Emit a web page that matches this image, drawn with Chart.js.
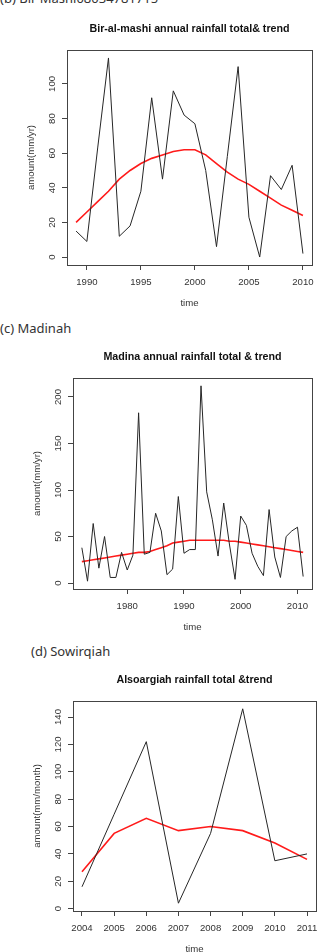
<!DOCTYPE html>
<html>
<head>
<meta charset="utf-8">
<script src="https://cdn.jsdelivr.net/npm/chart.js@4"></script>
<style>
  html, body { margin: 0; padding: 0; background: #fff; }
  #page { position: relative; width: 318px; height: 952px; overflow: hidden; }
  canvas { position: absolute; left: 0; }
  .cap { position: absolute; font-family: "Noto Sans", sans-serif; font-size: 13px; color: #333; white-space: nowrap; }
</style>
</head>
<body>
<div id="page">
  <div class="cap" style="left:0;top:-11px;">(b) Bir Mashi08034781715</div>
  <canvas id="c1" width="318" height="300" style="top:15px"></canvas>
  <div class="cap" style="left:0;top:319px;">(c) Madinah</div>
  <canvas id="c2" width="318" height="300" style="top:340px"></canvas>
  <div class="cap" style="left:31px;top:642px;">(d) Sowirqiah</div>
  <canvas id="c3" width="318" height="292" style="top:660px"></canvas>
</div>
<script>
// Bir-al-mashi
const birYears = [1989, 1990, 1991, 1992, 1993, 1994, 1995, 1996, 1997, 1998, 1999,
  2000, 2001, 2002, 2003, 2004, 2005, 2006, 2007, 2008, 2009, 2010];
const birTotal = [15, 9, 63, 115, 12, 18, 38, 92, 45, 96, 82,
  77, 50, 6, 58, 110, 23, 0, 47, 39, 53, 2];
const birTrend = [20, 26, 32, 38, 45, 50, 54, 57, 59, 61, 62,
  62, 59, 54, 49, 45, 42, 38, 34, 30, 27, 24];
const birXTicks = [1990, 1995, 2000, 2005, 2010];
const birYTicks = [0, 20, 40, 60, 80, 100];

// Madina
const madYears = [1972, 1973, 1974, 1975, 1976, 1977, 1978, 1979, 1980, 1981,
  1982, 1983, 1984, 1985, 1986, 1987, 1988, 1989, 1990, 1991,
  1992, 1993, 1994, 1995, 1996, 1997, 1998, 1999, 2000, 2001,
  2002, 2003, 2004, 2005, 2006, 2007, 2008, 2009, 2010, 2011];
const madTotal = [38, 2, 64, 16, 50, 6, 6, 33, 14, 30,
  183, 31, 33, 75, 56, 9, 15, 93, 32, 36,
  36, 212, 98, 68, 29, 86, 42, 4, 72, 62,
  32, 18, 8, 79, 28, 6, 50, 56, 60, 7];
const madTrend = [23, 24, 25, 26, 27, 28, 29, 30, 31, 32,
  33, 33, 34, 36, 38, 40, 43, 44, 45, 46,
  46, 46, 46, 46, 46, 46, 45, 45, 44, 43,
  42, 41, 40, 39, 38, 37, 36, 35, 34, 33];
const madXTicks = [1980, 1990, 2000, 2010];
const madYTicks = [0, 50, 100, 150, 200];

// Alsoargiah
const soYears = [2004, 2005, 2006, 2007, 2008, 2009, 2010, 2011];
const soTotal = [16, 69, 122, 4, 55, 146, 35, 40];
const soTrend = [27, 55, 66, 57, 60, 57, 48, 36];
const soXTicks = [2004, 2005, 2006, 2007, 2008, 2009, 2010, 2011];
const soYTicks = [0, 20, 40, 60, 80, 100, 120, 140];

const AXIS = '#444';
const TEXT = '#333';
const SANS = '"Liberation Sans", Arial, sans-serif';

function pts(xs, ys) {
  return xs.map((x, i) => ({ x, y: ys[i] }));
}

// R-like box, titles and tick labels
const rFrame = {
  id: 'rFrame',
  afterDraw(chart, args, o) {
    const { ctx, chartArea: a } = chart;
    const xs = chart.scales.x, ys = chart.scales.y;
    ctx.save();
    ctx.strokeStyle = AXIS;
    ctx.lineWidth = 1;
    ctx.strokeRect(Math.round(a.left) + 0.5, Math.round(a.top) + 0.5,
      Math.round(a.right - a.left), Math.round(a.bottom - a.top));

    ctx.fillStyle = '#111';
    ctx.font = 'bold 10.7px ' + SANS;
    ctx.textAlign = 'center';
    ctx.textBaseline = 'middle';
    ctx.fillText(o.title, (a.left + a.right) / 2, a.top - 20.5);

    ctx.fillStyle = TEXT;
    ctx.font = '9.6px ' + SANS;
    o.xTicks.forEach(v => ctx.fillText(String(v), xs.getPixelForValue(v), a.bottom + 17));
    ctx.fillText('time', (a.left + a.right) / 2, a.bottom + 38.5);

    o.yTicks.forEach(v => {
      ctx.save();
      ctx.translate(a.left - 15, ys.getPixelForValue(v));
      ctx.rotate(-Math.PI / 2);
      ctx.fillText(String(v), 0, 0);
      ctx.restore();
    });
    ctx.save();
    ctx.translate(a.left - 36, (a.top + a.bottom) / 2);
    ctx.rotate(-Math.PI / 2);
    ctx.fillText(o.yTitle, 0, 0);
    ctx.restore();
    ctx.restore();
  }
};

function makeChart(id, cfg) {
  const canvas = document.getElementById(id);
  const H = canvas.height;
  return new Chart(canvas, {
    type: 'line',
    data: {
      datasets: [
        { data: pts(cfg.years, cfg.total), borderColor: '#262626', borderWidth: 1, pointRadius: 0, tension: 0 },
        { data: pts(cfg.years, cfg.trend), borderColor: '#ff1a1a', borderWidth: 1.6, pointRadius: 0, tension: 0 }
      ]
    },
    options: {
      responsive: false,
      animation: false,
      layout: { padding: { left: 0, right: 318 - cfg.area.right, top: cfg.area.top, bottom: 0 } },
      plugins: {
        legend: { display: false },
        tooltip: { enabled: false },
        rFrame: { title: cfg.title, yTitle: cfg.yTitle, xTicks: cfg.xTicks, yTicks: cfg.yTicks }
      },
      scales: {
        x: {
          type: 'linear',
          min: cfg.xRange[0],
          max: cfg.xRange[1],
          afterBuildTicks: s => { s.ticks = cfg.xTicks.map(v => ({ value: v })); },
          afterFit: s => { s.height = H - cfg.area.bottom; },
          ticks: { display: false },
          grid: { display: true, drawOnChartArea: false, drawTicks: true, tickLength: 5, color: AXIS },
          border: { display: true, color: AXIS }
        },
        y: {
          min: cfg.yRange[0],
          max: cfg.yRange[1],
          afterBuildTicks: s => { s.ticks = cfg.yTicks.map(v => ({ value: v })); },
          afterFit: s => { s.width = cfg.area.left; },
          ticks: { display: false },
          grid: { display: true, drawOnChartArea: false, drawTicks: true, tickLength: 5, color: AXIS },
          border: { display: true, color: AXIS }
        }
      }
    },
    plugins: [rFrame]
  });
}

makeChart('c1', {
  years: birYears, total: birTotal, trend: birTrend,
  xTicks: birXTicks, yTicks: birYTicks,
  xRange: [1988.16, 2010.84], yRange: [-4.6, 119.6],
  area: { left: 67, right: 312, top: 35, bottom: 250 },
  title: 'Bir-al-mashi annual rainfall total& trend', yTitle: 'amount(mm/yr)'
});

makeChart('c2', {
  years: madYears, total: madTotal, trend: madTrend,
  xTicks: madXTicks, yTicks: madYTicks,
  xRange: [1970.44, 2012.56], yRange: [-6.4, 220.4],
  area: { left: 73, right: 312, top: 38, bottom: 249 },
  title: 'Madina annual rainfall total & trend', yTitle: 'amount(mm/yr)'
});

makeChart('c3', {
  years: soYears, total: soTotal, trend: soTrend,
  xTicks: soXTicks, yTicks: soYTicks,
  xRange: [2003.72, 2011.28], yRange: [-1.7, 151.7],
  area: { left: 73, right: 316, top: 41, bottom: 251 },
  title: 'Alsoargiah rainfall total &trend', yTitle: 'amount(mm/month)'
});
</script>
</body>
</html>
